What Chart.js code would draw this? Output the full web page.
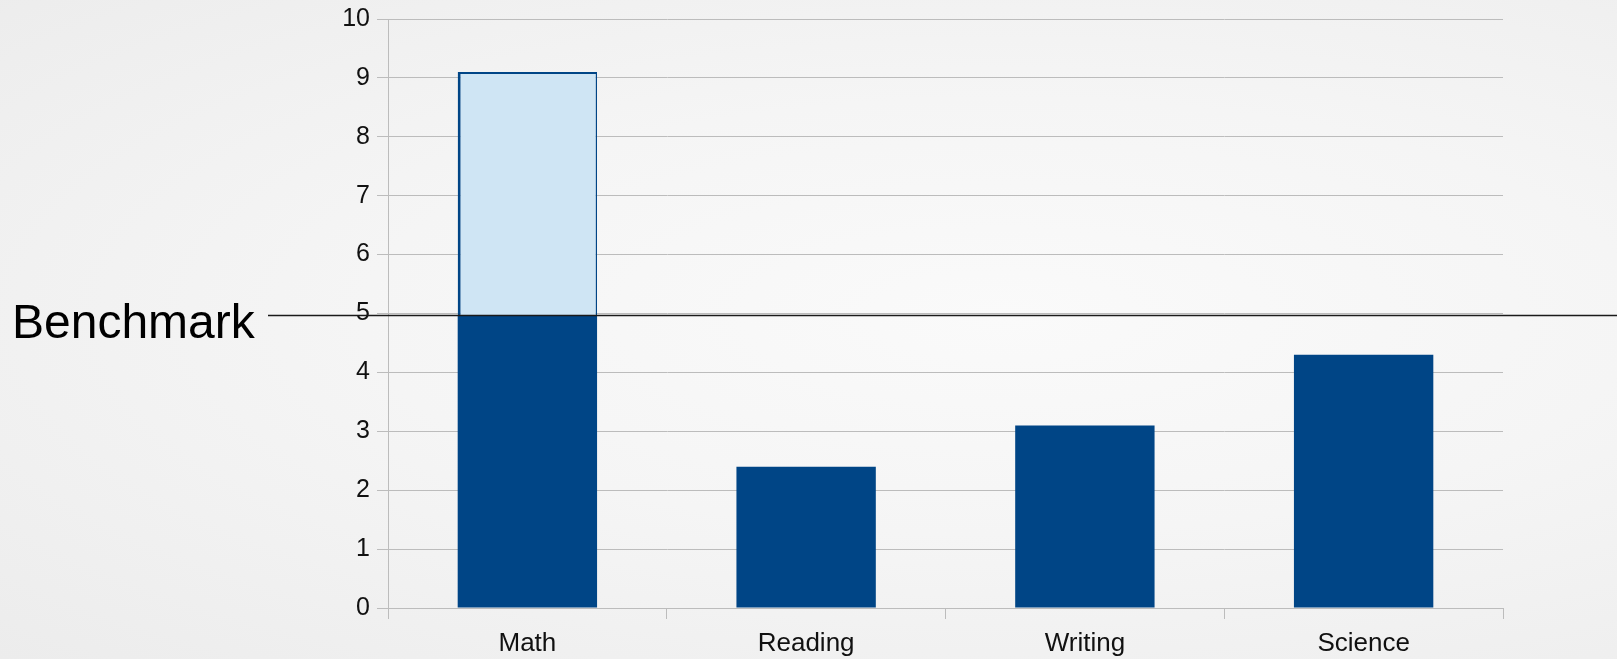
<!DOCTYPE html>
<html>
<head>
<meta charset="utf-8">
<script src="https://cdn.jsdelivr.net/npm/chart.js@4/dist/chart.umd.min.js"></script>
<style>
  html, body { margin: 0; padding: 0; }
  body {
    width: 1617px; height: 659px; overflow: hidden;
    background: radial-gradient(ellipse at 62% 48%, #fafafa 0%, #f5f5f5 45%, #ececec 100%);
  }
  #wrap { position: relative; width: 1617px; height: 659px; }
</style>
</head>
<body>
<div id="wrap"><canvas id="chart" width="1617" height="659"></canvas></div>
<script>
const categories = ['Math', 'Reading', 'Writing', 'Science'];
const benchmark = 4.97;
// part of each bar up to the benchmark / up to its own value
const belowBenchmark = [4.97, 2.4, 3.1, 4.3];
const aboveBenchmark = [4.13, 0, 0, 0];
const yTicks = [0, 1, 2, 3, 4, 5, 6, 7, 8, 9, 10];

const darkBlue = '#004586';
const lightBlue = '#cfe5f4';
const gridGrey = '#bcbcbc';

const benchmarkLine = {
    id: 'benchmarkLine',
    afterDatasetsDraw(chart) {
        const ctx = chart.ctx;
        const y = Math.round(chart.scales.y.getPixelForValue(benchmark)) + 0.5;
        ctx.save();
        ctx.strokeStyle = '#1a1a1a';
        ctx.lineWidth = 1.3;
        ctx.beginPath();
        ctx.moveTo(268, y);
        ctx.lineTo(chart.width, y);
        ctx.stroke();
        ctx.fillStyle = '#000';
        ctx.font = '48px "Liberation Sans", Arial, sans-serif';
        ctx.textAlign = 'left';
        ctx.textBaseline = 'alphabetic';
        ctx.fillText('Benchmark', 12, y + 22);
        ctx.restore();
    }
};

new Chart(document.getElementById('chart'), {
    type: 'bar',
    data: {
        labels: categories,
        datasets: [{
            data: belowBenchmark,
            backgroundColor: darkBlue,
            borderWidth: 0
        }, {
            data: aboveBenchmark,
            backgroundColor: lightBlue,
            borderColor: darkBlue,
            borderWidth: { left: 3, top: 2, right: 1.5, bottom: 0 },
            borderSkipped: false
        }]
    },
    options: {
        responsive: false,
        devicePixelRatio: 1,
        animation: false,
        layout: { padding: { top: 19, right: 114, left: 0, bottom: 0 } },
        plugins: { legend: { display: false }, tooltip: { enabled: false } },
        datasets: { bar: { categoryPercentage: 1, barPercentage: 0.5 } },
        scales: {
            x: {
                stacked: true,
                afterFit: s => { s.height = 51; },
                grid: {
                    offset: true,
                    drawOnChartArea: true,
                    color: c => c.index === categories.length ? gridGrey : 'transparent',
                    tickColor: gridGrey,
                    tickLength: 11,
                    lineWidth: 1
                },
                border: { color: gridGrey },
                ticks: {
                    color: '#111',
                    padding: 9,
                    font: { family: '"Liberation Sans", Arial, sans-serif', size: 26 }
                }
            },
            y: {
                stacked: true,
                min: 0,
                max: 10,
                afterFit: s => { s.width = 388; s.paddingTop = 0; s.paddingBottom = 0; },
                afterBuildTicks: s => { s.ticks = yTicks.map(v => ({ value: v })); },
                grid: { color: gridGrey, tickColor: gridGrey, tickLength: 11, lineWidth: 1 },
                border: { color: gridGrey },
                ticks: {
                    color: '#111',
                    padding: 7,
                    font: { family: '"Liberation Sans", Arial, sans-serif', size: 25 }
                }
            }
        }
    },
    plugins: [benchmarkLine]
});
</script>
</body>
</html>
